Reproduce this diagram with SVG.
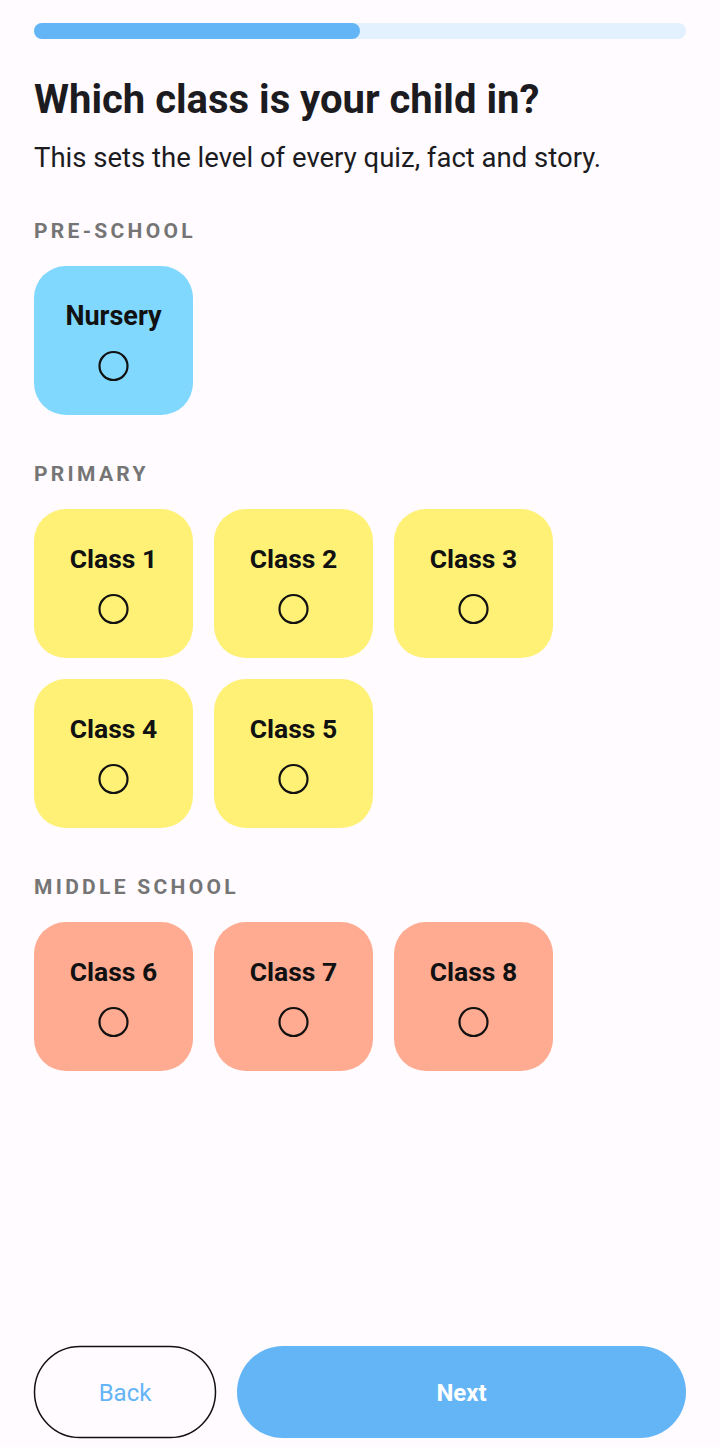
<svg xmlns="http://www.w3.org/2000/svg" width="720" height="1447" viewBox="0 0 720 1447">
<style>
.h{font-family:Roboto,"Liberation Sans",sans-serif;font-weight:700;font-size:40px;fill:#1c1b1f}
.sub{font-family:Roboto,"Liberation Sans",sans-serif;font-size:27.5px;fill:#1c1b1f}
.sec{font-family:Roboto,"Liberation Sans",sans-serif;font-weight:700;font-size:21px;fill:#757575;letter-spacing:3.3px}
.lbl{font-family:Roboto,"Liberation Sans",sans-serif;font-weight:700;font-size:26.5px;fill:#111;text-anchor:middle}
.rad{fill:none;stroke:#111;stroke-width:2.2}
.blue{fill:#80D8FF}.yel{fill:#FFF176}.org{fill:#FFAB91}
.btn{font-family:Roboto,"Liberation Sans",sans-serif;font-size:24px;text-anchor:middle}
</style>
<rect width="720" height="1447" fill="#FFFBFE"/>
<g id="progress">
<rect x="34" y="23" width="652" height="16" rx="8" fill="#E3F0FD"/>
<rect x="34" y="23" width="326" height="16" rx="8" fill="#64B5F6"/>
</g>
<text class="h" x="34" y="113">Which class is your child in?</text>
<text class="sub" x="34" y="167">This sets the level of every quiz, fact and story.</text>
<text class="sec" x="34" y="238">PRE-SCHOOL</text>
<g id="nursery"><rect class="blue" x="34" y="266" width="159" height="149" rx="32"/><text class="lbl" x="113.5" y="325" style="font-size:27px">Nursery</text><circle class="rad" cx="113.5" cy="366" r="14"/></g>
<text class="sec" x="34" y="481">PRIMARY</text>
<g id="class1"><rect class="yel" x="34" y="509" width="159" height="149" rx="32"/><text class="lbl" x="113.5" y="568">Class 1</text><circle class="rad" cx="113.5" cy="609" r="14"/></g>
<g id="class2"><rect class="yel" x="214" y="509" width="159" height="149" rx="32"/><text class="lbl" x="293.5" y="568">Class 2</text><circle class="rad" cx="293.5" cy="609" r="14"/></g>
<g id="class3"><rect class="yel" x="394" y="509" width="159" height="149" rx="32"/><text class="lbl" x="473.5" y="568">Class 3</text><circle class="rad" cx="473.5" cy="609" r="14"/></g>
<g id="class4"><rect class="yel" x="34" y="679" width="159" height="149" rx="32"/><text class="lbl" x="113.5" y="738">Class 4</text><circle class="rad" cx="113.5" cy="779" r="14"/></g>
<g id="class5"><rect class="yel" x="214" y="679" width="159" height="149" rx="32"/><text class="lbl" x="293.5" y="738">Class 5</text><circle class="rad" cx="293.5" cy="779" r="14"/></g>
<text class="sec" x="34" y="894">MIDDLE SCHOOL</text>
<g id="class6"><rect class="org" x="34" y="922" width="159" height="149" rx="32"/><text class="lbl" x="113.5" y="981">Class 6</text><circle class="rad" cx="113.5" cy="1022" r="14"/></g>
<g id="class7"><rect class="org" x="214" y="922" width="159" height="149" rx="32"/><text class="lbl" x="293.5" y="981">Class 7</text><circle class="rad" cx="293.5" cy="1022" r="14"/></g>
<g id="class8"><rect class="org" x="394" y="922" width="159" height="149" rx="32"/><text class="lbl" x="473.5" y="981">Class 8</text><circle class="rad" cx="473.5" cy="1022" r="14"/></g>
<g id="back"><rect x="34.5" y="1346.5" width="181" height="91" rx="45.5" fill="#FFFBFE" stroke="#111" stroke-width="1.5"/><text class="btn" x="125" y="1401" fill="#64B5F6">Back</text></g>
<g id="next"><rect x="237" y="1346" width="449" height="92" rx="46" fill="#64B5F6"/><text class="btn" x="461.5" y="1401" fill="#fff" font-weight="700">Next</text></g>
<g id="connectors"/>
</svg>
